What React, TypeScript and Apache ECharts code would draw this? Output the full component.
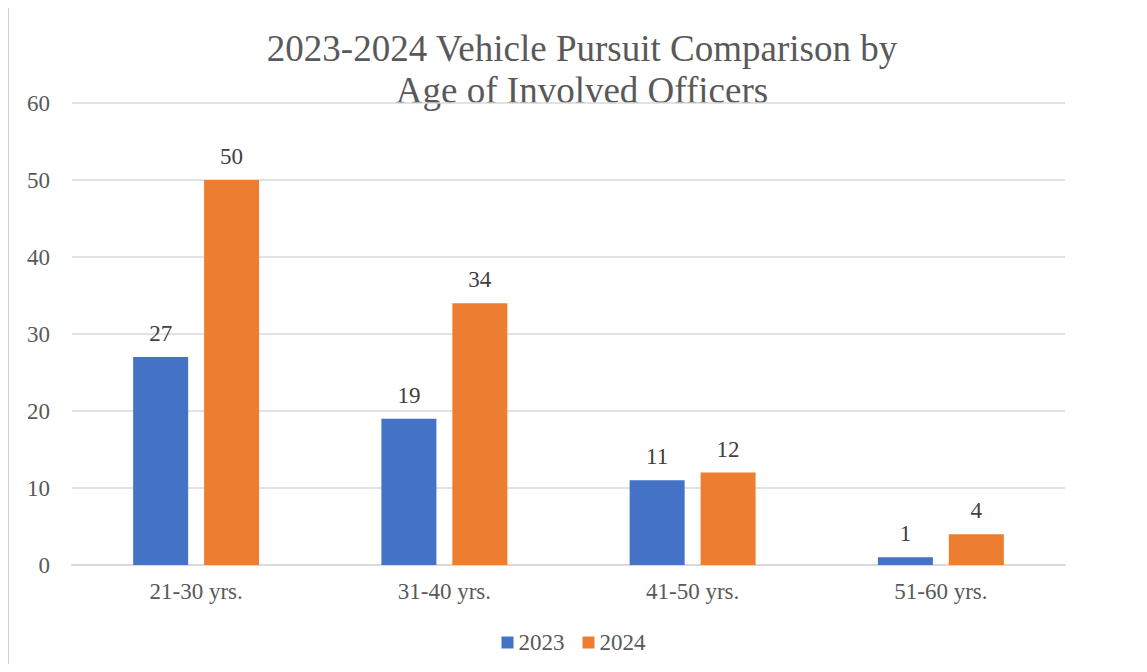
import React, { useEffect, useRef } from "react";
import * as echarts from "echarts";

const categories = ["21-30 yrs.", "31-40 yrs.", "41-50 yrs.", "51-60 yrs."];
const values2023 = [27, 19, 11, 1];
const values2024 = [50, 34, 12, 4];
const titleLines = ["2023-2024 Vehicle Pursuit Comparison by", "Age of Involved Officers"];

const FONT = "Liberation Serif";

export default function App() {
  const ref = useRef<HTMLDivElement>(null);
  useEffect(() => {
    if (!ref.current) return;
    const chart = echarts.init(ref.current, undefined, { renderer: "svg" });
    const label = {
      show: true,
      position: "top" as const,
      distance: 12,
      color: "#404040",
      fontFamily: FONT,
      fontSize: 23,
    };
    chart.setOption({
      animation: false,
      textStyle: { fontFamily: FONT },
      graphic: {
        elements: [
          {
            type: "polyline",
            shape: { points: [[8, 672], [8, 6], [1147, 6]] },
            style: { fill: "none", stroke: "#d0d0d0", lineWidth: 2 },
            silent: true,
            z: 100,
          },
          {
            type: "text",
            x: 582,
            y: 27,
            style: {
              text: titleLines.join("\n"),
              fontFamily: FONT,
              fontSize: 37,
              lineHeight: 42,
              fill: "#595959",
              align: "center",
              verticalAlign: "top",
            },
          },
        ],
      },
      grid: { left: 72, right: 82, top: 103, bottom: 107, containLabel: false },
      legend: {
        top: 626,
        left: "center",
        itemWidth: 12,
        itemHeight: 12,
        itemGap: 18,
        icon: "rect",
        textStyle: { fontFamily: FONT, fontSize: 23, color: "#595959" },
        data: ["2023", "2024"],
      },
      xAxis: {
        type: "category",
        data: categories,
        axisLine: { lineStyle: { color: "#d9d9d9", width: 2 } },
        axisTick: { show: false },
        axisLabel: { fontFamily: FONT, fontSize: 23, color: "#595959", margin: 15 },
      },
      yAxis: {
        type: "value",
        min: 0,
        max: 60,
        interval: 10,
        axisLine: { show: false },
        axisTick: { show: false },
        splitLine: { lineStyle: { color: "#d9d9d9", width: 1.5 } },
        axisLabel: { fontFamily: FONT, fontSize: 23, color: "#595959", margin: 22 },
      },
      series: [
        {
          name: "2023",
          type: "bar",
          data: values2023,
          barWidth: 55,
          barGap: "29%",
          itemStyle: { color: "#4472c4" },
          label,
        },
        {
          name: "2024",
          type: "bar",
          data: values2024,
          barWidth: 55,
          itemStyle: { color: "#ed7d31" },
          label,
        },
      ],
    });
    return () => chart.dispose();
  }, []);
  return <div ref={ref} style={{ width: 1147, height: 672, margin: -8 }} />;
}
